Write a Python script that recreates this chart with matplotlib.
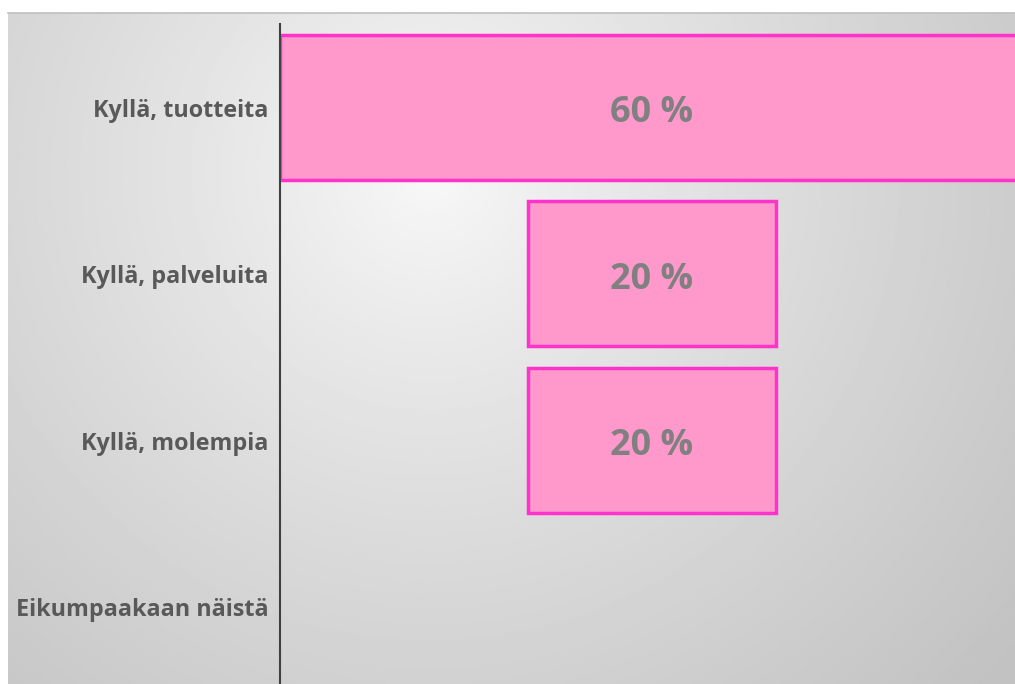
import numpy as np
import matplotlib
matplotlib.use('Agg')
import matplotlib.pyplot as plt

# funnel data
categories = ['Kyllä, tuotteita', 'Kyllä, palveluita', 'Kyllä, molempia', 'Eikumpaakaan näistä']
values = [60, 20, 20, 0]
labels = ['60 %', '20 %', '20 %', '']

W, H = 1015, 684
fig = plt.figure(figsize=(W / 100, H / 100), dpi=100)
fig.patch.set_facecolor('white')

# background panel with radial gradient
bx0, by0, bx1, by1 = 8, 13, 1015, 684
bg = fig.add_axes([bx0 / W, 1 - by1 / H, (bx1 - bx0) / W, (by1 - by0) / H])
xx, yy = np.meshgrid(np.linspace(bx0, bx1, 400), np.linspace(by0, by1, 300))
r = np.sqrt((xx - 430) ** 2 + (yy - 170) ** 2) / 760
r = np.clip(r, 0, 1) ** 0.85
grey = 0.975 - (0.975 - 0.76) * r
bg.imshow(grey, cmap='gray', vmin=0, vmax=1, aspect='auto',
          extent=[0, 1, 0, 1], interpolation='bilinear')
bg.set_axis_off()
fig.add_artist(plt.Line2D([bx0 / W, 1], [1 - by0 / H, 1 - by0 / H],
                          color='#bfbfbf', lw=1.2, transform=fig.transFigure))

# main axes
ax0, ay0, ax1, ay1 = 280, 24, 1015, 684
ax = fig.add_axes([ax0 / W, 1 - ay1 / H, (ax1 - ax0) / W, (ay1 - ay0) / H])
ax.patch.set_alpha(0)

px = 12.4
center = 652
ax.set_xlim(-(center - ax0) / px, (ax1 - center) / px)
row = 166.3
first = 107.5
ax.set_ylim((ay1 - first) / row, -(first - ay0) / row)

y = np.arange(len(categories))
v = np.array(values)
lw = [2.5 if val > 0 else 0 for val in values]
ax.barh(y, v, left=-v / 2, height=0.873, color='#ff99cc',
        edgecolor='#ff33cc', linewidth=lw, zorder=2)

for yi, lab in zip(y, labels):
    if lab:
        ax.text(0, yi + 0.035, lab, ha='center', va='center', fontsize=26,
                fontweight='bold', color='#808080', family='Open Sans', zorder=3)

# category labels, drawn by hand so they can sit a bit lower
ax.set_yticks([])
ax.set_xticks([])
for yi, cat in zip(y, categories):
    ax.annotate(cat, xy=(0, yi), xycoords=ax.get_yaxis_transform(),
                xytext=(-8.5, -2.5), textcoords='offset points',
                ha='right', va='center', fontsize=16.8, fontweight='bold',
                color='#595959', family='Open Sans', annotation_clip=False)

for s in ['top', 'right', 'bottom']:
    ax.spines[s].set_visible(False)
ax.spines['left'].set_color('#404040')
ax.spines['left'].set_linewidth(1.5)

fig.savefig('out.png', dpi=100)
